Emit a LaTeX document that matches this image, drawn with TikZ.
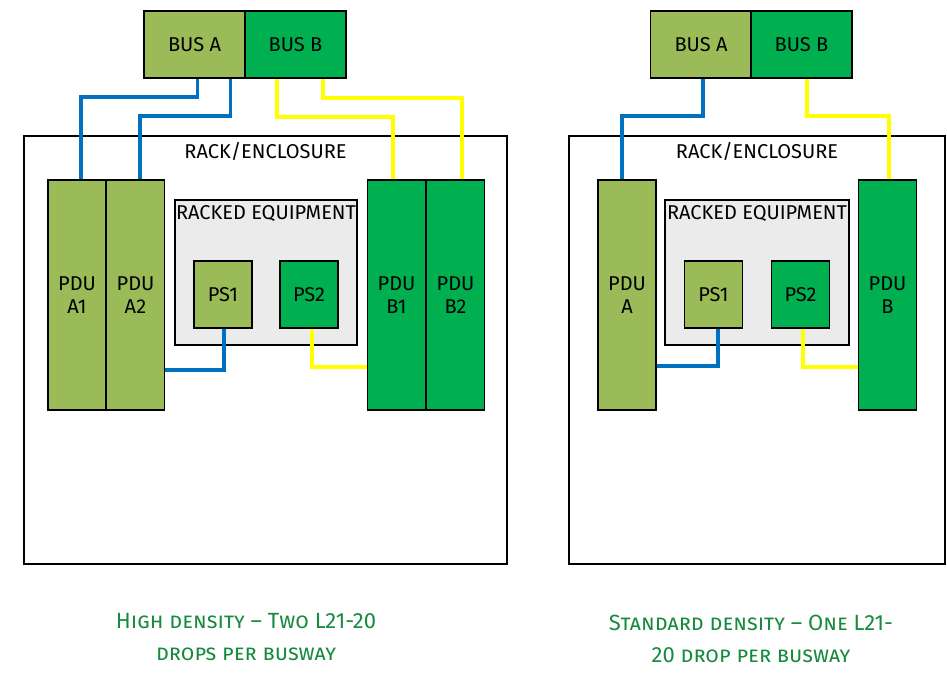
\documentclass[tikz,border=0pt]{standalone}
\usepackage{fontspec}
\setmainfont{Fira Sans}
\usetikzlibrary{calc}
\definecolor{busagreen}{RGB}{155,187,89}
\definecolor{busbgreen}{RGB}{0,176,80}
\definecolor{wireblue}{RGB}{0,112,192}
\definecolor{wireyellow}{RGB}{255,255,0}
\definecolor{equipgray}{RGB}{235,235,235}
\definecolor{captiongreen}{RGB}{24,138,62}
\begin{document}
\begin{tikzpicture}[x=1pt, y=-1pt,
  font=\fontsize{20}{23}\selectfont,
  box/.style={draw=black, line width=1.8pt, inner sep=0pt, align=center},
  bus/.style={box, minimum width=101pt, minimum height=67pt},
  pdu/.style={box, minimum width=58pt, minimum height=230pt},
  psu/.style={box, minimum width=58pt, minimum height=67pt},
  rack/.style={draw=black, line width=1.4pt, fill=white},
  equip/.style={box, fill=equipgray, line width=1.5pt},
  sidea/.style={fill=busagreen},
  sideb/.style={fill=busbgreen},
  bluewire/.style={draw=wireblue, line width=3.5pt},
  yellowwire/.style={draw=wireyellow, line width=3.5pt},
  caption/.style={text=captiongreen, align=center, font=\fontsize{22}{32}\selectfont\scshape}]
\useasboundingbox (0,0) rectangle (947,677);

% high density
\node[rack, minimum width=483pt, minimum height=428pt] (rackL) at (265.5,350) {};
\node[below=4pt] (rackLlbl) at (rackL.north) {RACK/ENCLOSURE};
\node[equip, minimum width=182pt, minimum height=145pt] (equipL) at (266,272.5) {};
\node[below=3pt] (equipLlbl) at (equipL.north) {RACKED EQUIPMENT};
\node[psu, sidea] (ps1L) at (223,294.5) {PS1};
\node[psu, sideb] (ps2L) at (309,294.5) {PS2};
\node[pdu, sidea] (pduA1) at (77,295) {PDU\\A1};
\node[pdu, sidea] (pduA2) at (135.5,295) {PDU\\A2};
\node[pdu, sideb] (pduB1) at (396.5,295) {PDU\\B1};
\node[pdu, sideb] (pduB2) at (455.5,295) {PDU\\B2};
\node[bus, sidea] (busAL) at (194.5,44.5) {BUS A};
\node[bus, sideb] (busBL) at (295.5,44.5) {BUS B};

\draw[bluewire] ([xshift=3pt]busAL.south) -- ++(0,18) -| ([xshift=4pt]pduA1.north);
\draw[bluewire] ([xshift=36pt]busAL.south) -- ++(0,37) -| ([xshift=4.5pt]pduA2.north);
\draw[yellowwire] ([xshift=-18.5pt]busBL.south) -- ++(0,38) -| ([xshift=-3.5pt]pduB1.north);
\draw[yellowwire] ([xshift=27.5pt]busBL.south) -- ++(0,19) -| ([xshift=6.5pt]pduB2.north);
\draw[bluewire] ([xshift=1pt]ps1L.south) |- ([yshift=-75pt]pduA2.east);
\draw[yellowwire] ([xshift=3pt]ps2L.south) |- ([yshift=-72pt]pduB1.west);

\node[caption] (capL) at (246,637) {High density -- Two L21-20\\drops per busway};

% standard density
\node[rack, minimum width=376pt, minimum height=428pt] (rackR) at (757,350) {};
\node[below=4pt] (rackRlbl) at (rackR.north) {RACK/ENCLOSURE};
\node[equip, minimum width=184pt, minimum height=145pt] (equipR) at (757,272.5) {};
\node[below=3pt] (equipRlbl) at (equipR.north) {RACKED EQUIPMENT};
\node[psu, sidea] (ps1R) at (713.5,294.5) {PS1};
\node[psu, sideb] (ps2R) at (800.5,294.5) {PS2};
\node[pdu, sidea] (pduA) at (627,295) {PDU\\A};
\node[pdu, sideb] (pduB) at (887.5,295) {PDU\\B};
\node[bus, sidea] (busAR) at (701,44.5) {BUS A};
\node[bus, sideb] (busBR) at (801.5,44.5) {BUS B};

\draw[bluewire] ([xshift=2pt]busAR.south) -- ++(0,37) -| ([xshift=-5pt]pduA.north);
\draw[yellowwire] ([xshift=5.5pt]busBR.south) -- ++(0,37) -| ([xshift=1.5pt]pduB.north);
\draw[bluewire] ([xshift=4.5pt]ps1R.south) |- ([yshift=-71pt]pduA.east);
\draw[yellowwire] ([xshift=2.5pt]ps2R.south) |- ([yshift=-72pt]pduB.west);

\node[caption] (capR) at (751,639) {Standard density -- One L21-\\20 drop per busway};
\end{tikzpicture}
\end{document}
